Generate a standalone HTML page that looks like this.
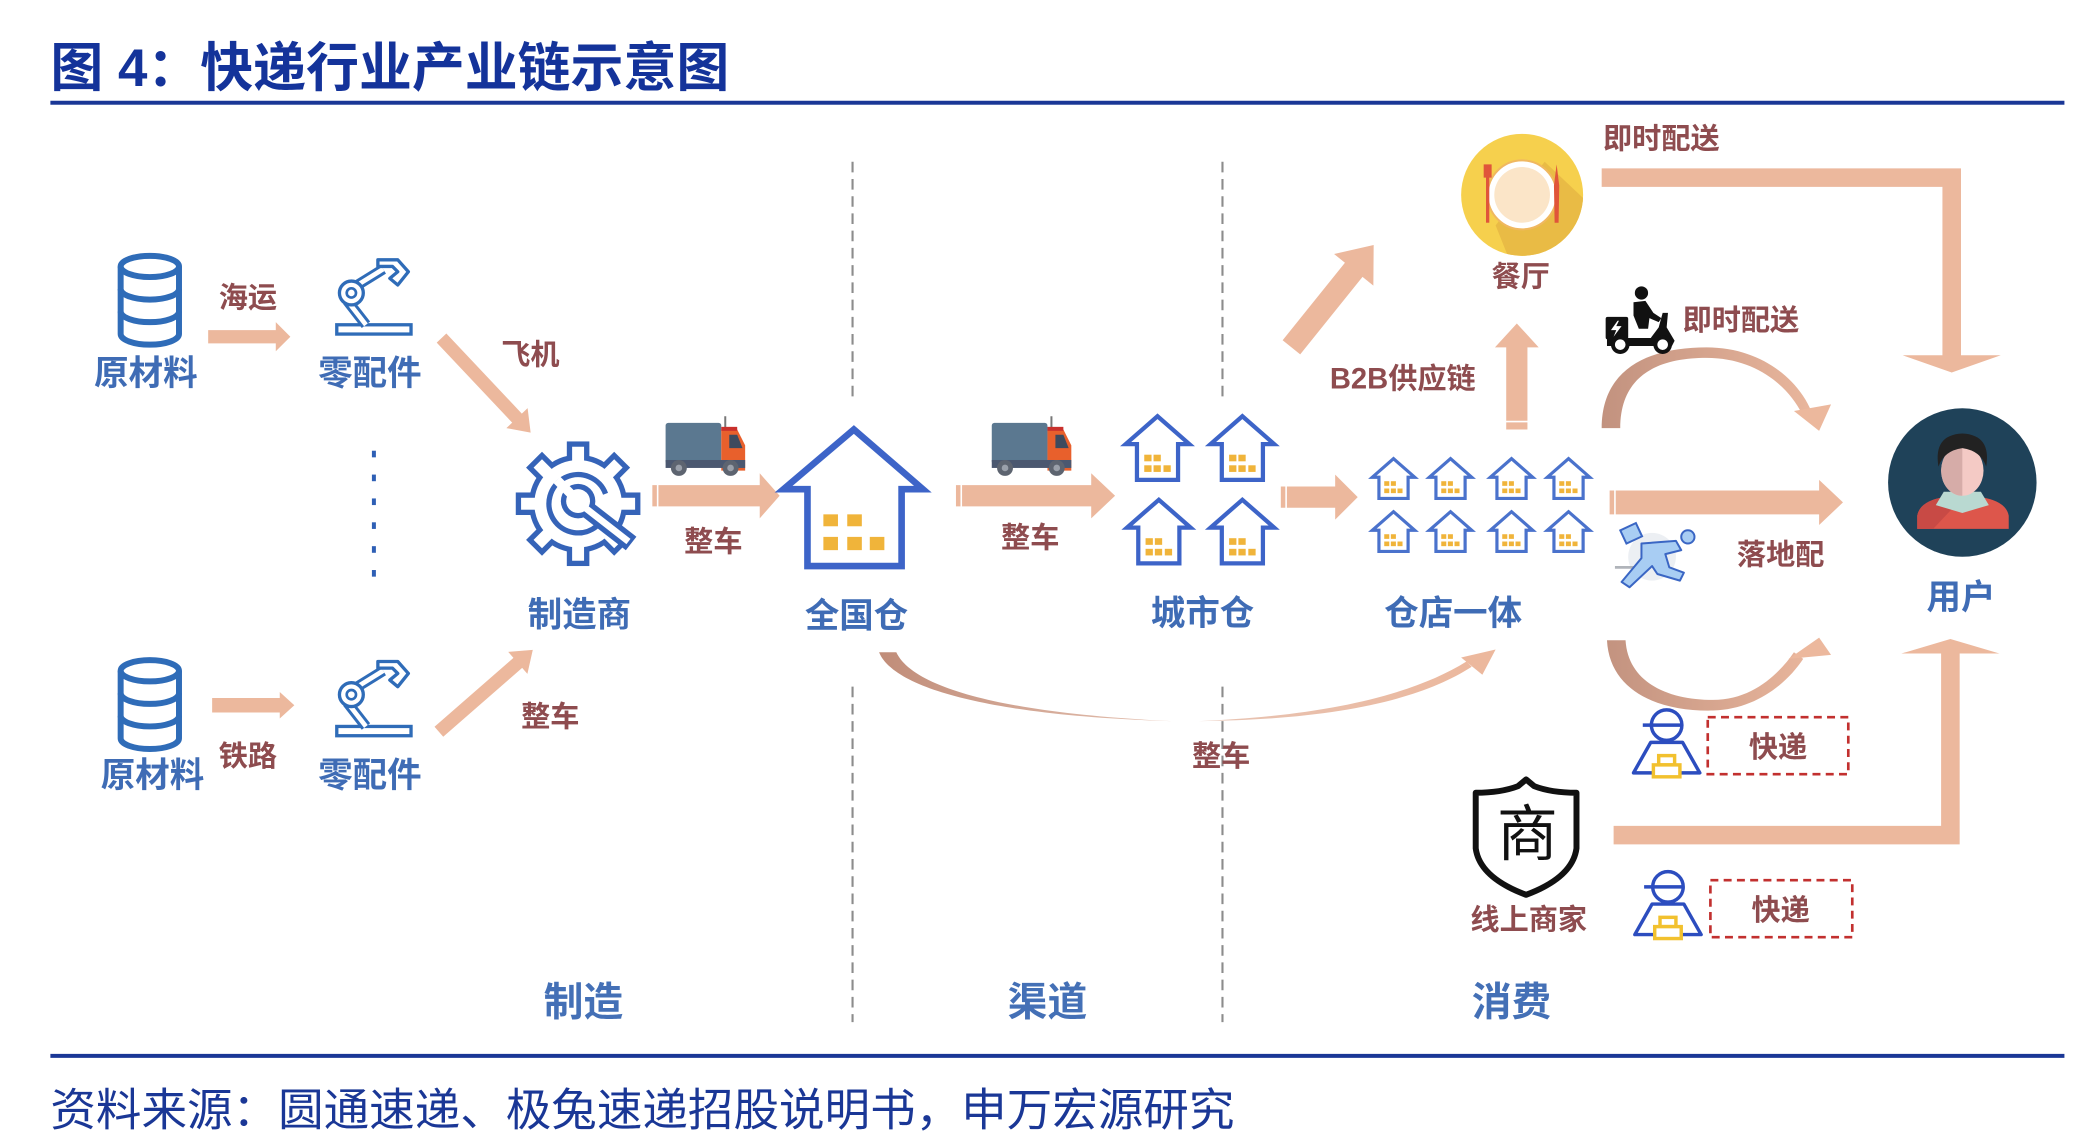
<!DOCTYPE html>
<html><head><meta charset="utf-8">
<style>
html,body{margin:0;padding:0;background:#fff;}
body{width:2079px;height:1148px;overflow:hidden;}
svg{display:block;}
text{font-family:"Liberation Sans","Noto Sans CJK SC",sans-serif;}
.b{font-size:26px;font-weight:700;fill:#3f6cb5;text-anchor:middle;}
.s{font-size:30px;font-weight:700;fill:#4470b6;text-anchor:middle;}
.r{font-size:22px;font-weight:700;fill:#8e4c4f;text-anchor:middle;}
</style></head>
<body>
<svg width="2079" height="1148" viewBox="0 0 1568 866" preserveAspectRatio="none" xmlns="http://www.w3.org/2000/svg">
<defs>
  <linearGradient id="gUp" gradientUnits="userSpaceOnUse" x1="1208" y1="0" x2="1380" y2="0">
    <stop offset="0" stop-color="#c2927f"/><stop offset="1" stop-color="#ecb99f"/>
  </linearGradient>
  <linearGradient id="gBig" gradientUnits="userSpaceOnUse" x1="660" y1="0" x2="1130" y2="0">
    <stop offset="0" stop-color="#c08c78"/><stop offset="0.5" stop-color="#e7c4b4"/><stop offset="1" stop-color="#ecb79c"/>
  </linearGradient>
  <clipPath id="plateClip"><circle cx="1148" cy="147" r="46"/></clipPath>
  <g id="db" fill="none" stroke="#2f6cb8" stroke-width="4.5">
    <ellipse cx="0" cy="8" rx="22" ry="8" fill="#fff"/>
    <path d="M-22,8 V59 A22,8 0 0 0 22,59 V8"/>
    <path d="M-22,25 A22,8 0 0 0 22,25"/>
    <path d="M-22,42 A22,8 0 0 0 22,42"/>
  </g>
  <g id="robot">
    <rect x="254" y="245" width="56" height="7" fill="#fff" stroke="#2f6cb8" stroke-width="2.5"/>
    <path d="M262,227 L276,245" stroke="#2f6cb8" stroke-width="8"/>
    <path d="M262,227 L276,245" stroke="#fff" stroke-width="3.5"/>
    <path d="M268,216 L289,203" stroke="#2f6cb8" stroke-width="8"/>
    <path d="M268,216 L289,203" stroke="#fff" stroke-width="3.5"/>
    <circle cx="265" cy="221" r="9" fill="#fff" stroke="#2f6cb8" stroke-width="2.5"/>
    <circle cx="265" cy="221" r="3.5" fill="none" stroke="#2f6cb8" stroke-width="2"/>
    <path d="M285,196 L300,196 L308,205 L300,215 L294,210 L300,205 L296,201 L285,201 Z" fill="#fff" stroke="#2f6cb8" stroke-width="2.5" stroke-linejoin="round"/>
  </g>
  <g id="hs">
    <polygon points="-15.5,48 -15.5,21 -24,21 0,0 24,21 15.5,21 15.5,48" fill="#fff" stroke="#3d64c8" stroke-width="3.2" stroke-linejoin="miter"/>
    <g fill="#f0b43a">
      <rect x="-10" y="29" width="5.5" height="5"/><rect x="-3" y="29" width="5.5" height="5"/>
      <rect x="-10" y="37" width="5.5" height="5"/><rect x="-3" y="37" width="5.5" height="5"/><rect x="4.5" y="37" width="5.5" height="5"/>
    </g>
  </g>
  <g id="hx">
    <polygon points="-11,30 -11,14 -16,14 0,0 16,14 11,14 11,30" fill="#fff" stroke="#4a72cc" stroke-width="2.4"/>
    <g fill="#f0b43a">
      <rect x="-7" y="17" width="3.8" height="3.5"/><rect x="-2" y="17" width="3.8" height="3.5"/>
      <rect x="-7" y="22.5" width="3.8" height="3.5"/><rect x="-2" y="22.5" width="3.8" height="3.5"/><rect x="3" y="22.5" width="3.8" height="3.5"/>
    </g>
  </g>
  <g id="courier" stroke-width="2.6" fill="none">
    <path d="M-12,13 L12,13 L25,36 L-25,36 Z" stroke="#2c4dbf" fill="#fff" stroke-linejoin="round"/>
    <circle cx="0" cy="0" r="11.5" stroke="#2c4dbf" fill="#fff"/>
    <line x1="-18" y1="0" x2="11" y2="0" stroke="#2c4dbf"/>
    <rect x="-6" y="23" width="12" height="7" stroke="#f2c12e" fill="#fff"/>
    <rect x="-10" y="30" width="20" height="9" stroke="#f2c12e" fill="#fff"/>
  </g>
</defs>

<!-- Title -->
<text x="38" y="65" font-size="40" font-weight="700" fill="#14339a" textLength="512" lengthAdjust="spacingAndGlyphs">图 4：快递行业产业链示意图</text>
<rect x="38" y="76" width="1519" height="3" fill="#1a3796"/>
<rect x="38" y="795" width="1519" height="3" fill="#1a3796"/>
<text x="38" y="849" font-size="34" fill="#1a3796" textLength="893" lengthAdjust="spacingAndGlyphs">资料来源：圆通速递、极兔速递招股说明书，申万宏源研究</text>

<!-- dashed separators -->
<g stroke="#8c8c8c" stroke-width="1.6" stroke-dasharray="8,5">
  <line x1="643" y1="122" x2="643" y2="300"/>
  <line x1="643" y1="518" x2="643" y2="771"/>
  <line x1="922" y1="122" x2="922" y2="300"/>
  <line x1="922" y1="518" x2="922" y2="771"/>
</g>

<!-- arrows -->
<g fill="#ecb89d">
  <polygon points="157,249 208,249 208,243 219,254 208,265 208,259 157,259"/>
  <polygon points="160,526.5 211,526.5 211,522 222,532 211,542 211,537.5 160,537.5"/>
  <polygon points="0,-5 83,-5 83,-11 98,0 83,11 83,5 0,5" transform="translate(333,255) rotate(46.7)"/>
  <polygon points="0,-5 79,-5 79,-11 94,0 79,11 79,5 0,5" transform="translate(331,552) rotate(-41.1)"/>
  <polygon points="492,366 573,366 573,357 588,374 573,391 573,382 492,382"/>
  <polygon points="721,366 823,366 823,357 841,374 823,391 823,382 721,382"/>
  <polygon points="966,367 1007,367 1007,358 1024,375 1007,392 1007,383 966,383"/>
  <polygon points="1214,370 1372,370 1372,362 1390,379 1372,396 1372,388 1214,388"/>
  <polygon points="1136,324 1136,262 1127.5,262 1144,244 1160.5,262 1152,262 1152,324"/>
  <polygon points="0,-8.5 75,-8.5 75,-19 99,0 75,19 75,8.5 0,8.5" transform="translate(974,262) rotate(-51.2)"/>
  <polygon points="1208,127 1479,127 1479,268 1509,268 1472,281 1435,268 1465,268 1465,141 1208,141"/>
  <polygon points="1217,623 1464,623 1464,493 1434,493 1471,482 1508,493 1478,493 1478,637 1217,637"/>
</g>
<!-- tail stripes -->
<g stroke="#fff" stroke-width="1.2">
  <line x1="496" y1="365" x2="496" y2="383"/><line x1="725" y1="365" x2="725" y2="383"/>
  <line x1="970" y1="366" x2="970" y2="384"/><line x1="1218" y1="369" x2="1218" y2="389"/>
  <line x1="1135" y1="318" x2="1153" y2="318"/>
</g>

<!-- curved arrows -->
<path d="M1208,323 C1208,275 1248,262 1287,262 C1330,262 1357,288 1366,310 L1359,312 C1349,292 1325,270 1287,270 C1252,270 1222,282 1222,323 Z" fill="url(#gUp)"/>
<polygon points="1353,310 1381,305 1372,325" fill="#ecb89d"/>
<path d="M1212,483 C1214,522 1252,537 1292,536 C1325,535 1348,515 1360,497 L1353,492 C1342,508 1322,528 1292,528 C1258,528 1228,515 1226,483 Z" fill="url(#gUp)"/>
<polygon points="1349,497 1381,494 1372,481" fill="#ecb89d"/>
<path d="M663,492 C676,524 770,541 884,544 C772,539 690,522 676,492 Z" fill="url(#gBig)"/>
<path d="M904,544 C1000,543 1068,530 1110,503 L1106,499 C1066,524 1000,540 904,544 Z" fill="url(#gBig)"/>
<polygon points="1102,496 1118,509 1128,490" fill="#ecb89d"/>

<!-- databases -->
<use href="#db" transform="translate(113,193)"/>
<use href="#db" transform="translate(113,498)"/>
<!-- robots -->
<use href="#robot"/>
<use href="#robot" transform="translate(0,303)"/>
<!-- dots -->
<g fill="#2e5fb5">
  <rect x="280.5" y="340" width="3" height="5"/><rect x="280.5" y="358" width="3" height="5"/>
  <rect x="280.5" y="376" width="3" height="5"/><rect x="280.5" y="394" width="3" height="5"/>
  <rect x="280.5" y="412" width="3" height="5"/><rect x="280.5" y="430" width="3" height="5"/>
</g>

<!-- gear + wrench -->
<g transform="translate(436,380)">
  <g fill="#3563b8">
    <circle r="37"/>
    <rect x="-8.5" y="-47" width="17" height="14"/>
    <rect x="-8.5" y="-47" width="17" height="14" transform="rotate(45)"/>
    <rect x="-8.5" y="-47" width="17" height="14" transform="rotate(90)"/>
    <rect x="-8.5" y="-47" width="17" height="14" transform="rotate(135)"/>
    <rect x="-8.5" y="-47" width="17" height="14" transform="rotate(180)"/>
    <rect x="-8.5" y="-47" width="17" height="14" transform="rotate(225)"/>
    <rect x="-8.5" y="-47" width="17" height="14" transform="rotate(270)"/>
    <rect x="-8.5" y="-47" width="17" height="14" transform="rotate(315)"/>
  </g>
  <g fill="#fff">
    <circle r="33"/>
    <rect x="-4.5" y="-43" width="9" height="14"/>
    <rect x="-4.5" y="-43" width="9" height="14" transform="rotate(45)"/>
    <rect x="-4.5" y="-43" width="9" height="14" transform="rotate(90)"/>
    <rect x="-4.5" y="-43" width="9" height="14" transform="rotate(135)"/>
    <rect x="-4.5" y="-43" width="9" height="14" transform="rotate(180)"/>
    <rect x="-4.5" y="-43" width="9" height="14" transform="rotate(225)"/>
    <rect x="-4.5" y="-43" width="9" height="14" transform="rotate(270)"/>
    <rect x="-4.5" y="-43" width="9" height="14" transform="rotate(315)"/>
  </g>
  <path d="M14.1,16.9 A22,22 0 1 1 20.7,-7.5" fill="none" stroke="#3563b8" stroke-width="4"/>
  <circle cx="0" cy="-2" r="13" fill="#3563b8"/>
  <line x1="4" y1="2" x2="40" y2="30" stroke="#3563b8" stroke-width="13"/>
  <circle cx="0" cy="-2" r="9" fill="#fff"/>
  <line x1="4" y1="2" x2="38" y2="28.5" stroke="#fff" stroke-width="5"/>
  <line x1="-2" y1="-4" x2="-16" y2="-18" stroke="#fff" stroke-width="7"/>
</g>

<!-- trucks -->
<g id="truck1">
  <rect x="502" y="319" width="42" height="31" rx="2" fill="#5b7890"/>
  <line x1="547" y1="314" x2="547" y2="324" stroke="#777" stroke-width="1.5"/>
  <path d="M544,324 L556,324 L562,336 L562,355 L544,355 Z" fill="#e8602c"/>
  <rect x="544" y="322" width="12" height="3" fill="#c9302c"/>
  <path d="M550,328 L556,328 L560,338 L550,338 Z" fill="#3d4a5e"/>
  <rect x="502" y="347" width="60" height="6" fill="#4b5870"/>
  <circle cx="512" cy="353" r="6" fill="#5d6470"/><circle cx="512" cy="353" r="2.5" fill="#9aa0aa"/>
  <circle cx="551" cy="353" r="6" fill="#5d6470"/><circle cx="551" cy="353" r="2.5" fill="#9aa0aa"/>
</g>
<use href="#truck1" transform="translate(246,0)"/>

<!-- big house -->
<polygon points="609,427 609,369 591,369 644,324 696,369 680,369 680,427" fill="#fff" stroke="#3d64c8" stroke-width="5"/>
<g fill="#f0b43a">
  <rect x="621" y="388" width="11" height="9"/><rect x="639" y="388" width="11" height="9"/>
  <rect x="621" y="405" width="11" height="10"/><rect x="639" y="405" width="11" height="10"/><rect x="656" y="405" width="11" height="10"/>
</g>
<!-- city houses -->
<use href="#hs" transform="translate(873,314)"/>
<use href="#hs" transform="translate(937,314)"/>
<use href="#hs" transform="translate(874,377)"/>
<use href="#hs" transform="translate(937,377)"/>
<!-- store houses -->
<use href="#hx" transform="translate(1051,346)"/>
<use href="#hx" transform="translate(1094,346)"/>
<use href="#hx" transform="translate(1140,346)"/>
<use href="#hx" transform="translate(1183,346)"/>
<use href="#hx" transform="translate(1051,386)"/>
<use href="#hx" transform="translate(1094,386)"/>
<use href="#hx" transform="translate(1140,386)"/>
<use href="#hx" transform="translate(1183,386)"/>

<!-- restaurant -->
<circle cx="1148" cy="147" r="46" fill="#f6d04d"/>
<polygon points="1165,122 1200,155 1200,200 1140,200 1128,170" fill="#e9bb45" clip-path="url(#plateClip)"/>
<circle cx="1148" cy="147" r="26" fill="#fff" stroke="#f0b860" stroke-width="1.5"/>
<circle cx="1148" cy="147" r="21" fill="#fbe5c8"/>
<line x1="1122" y1="130" x2="1122" y2="168" stroke="#e0553a" stroke-width="2.5"/>
<rect x="1119" y="124" width="6" height="10" fill="#e0553a"/>
<path d="M1174,124 L1176,140 L1175.5,168 L1172.5,168 L1172,140 Z" fill="#e0553a"/>

<!-- scooter -->
<g fill="#111">
  <rect x="1211" y="239" width="17" height="17" rx="1.5"/>
  <polygon points="1220,242 1215,249 1219,249 1217,254 1223,246 1219,246 1221,242" fill="#fff"/>
  <circle cx="1238" cy="221" r="5"/>
  <polygon points="1232,228 1241,227 1247,236 1253,240 1251,243 1244,240 1243,248 1236,248 1232,238"/>
  <polygon points="1212,255 1245,255 1251,247 1254,236 1258,236 1257,247 1263,257 1261,261 1212,261"/>
  <circle cx="1222" cy="260" r="5.5" fill="#fff" stroke="#111" stroke-width="3"/>
  <circle cx="1254" cy="260" r="5.5" fill="#fff" stroke="#111" stroke-width="3"/>
</g>

<!-- runner -->
<circle cx="1246" cy="420" r="18" fill="#eceff3"/>
<line x1="1218" y1="428" x2="1234" y2="428" stroke="#b0b4ba" stroke-width="2"/>
<rect x="1224" y="397" width="13" height="11" fill="#a8cdf3" stroke="#3a66c4" stroke-width="1.5" transform="rotate(-25 1230 403)"/>
<polygon points="1238,410 1264,408 1268,415 1256,418 1259,428 1270,432 1267,438 1250,433 1246,427 1229,443 1223,439 1238,421" fill="#a8cdf3" stroke="#3a66c4" stroke-width="1.5" stroke-linejoin="round"/>
<circle cx="1273" cy="405" r="5" fill="#a8cdf3" stroke="#3a66c4" stroke-width="1.5"/>

<!-- user -->
<circle cx="1480" cy="364" r="56" fill="#1f4259"/>
<path d="M1446,399 L1446,389 Q1448,378 1466,375 L1480,386 L1494,375 Q1513,378 1515,389 L1515,399 Z" fill="#dd564b"/>
<path d="M1446,399 L1446,389 Q1448,378 1466,375 L1474,382 L1458,399 Z" fill="#c84a45"/>
<polygon points="1466,371 1494,371 1500,381 1480,387 1460,381" fill="#b9d9d1"/>
<ellipse cx="1480" cy="355" rx="16" ry="19" fill="#f4cac5"/>
<path d="M1480,336 A16,19 0 0 0 1480,374 Z" fill="#d6aca8"/>
<path d="M1462,352 Q1458,328 1480,327 Q1502,328 1498,352 Q1494,340 1480,338 Q1466,340 1462,352 Z" fill="#222"/>

<!-- couriers -->
<use href="#courier" transform="translate(1257,547)"/>
<use href="#courier" transform="translate(1258,669)"/>
<rect x="1288" y="541" width="106" height="43" fill="none" stroke="#c2302f" stroke-width="2" stroke-dasharray="6,4"/>
<rect x="1290" y="664" width="107" height="43" fill="none" stroke="#c2302f" stroke-width="2" stroke-dasharray="6,4"/>

<!-- shop shield -->
<path d="M1151,588 L1157,593 Q1170,598 1189,598 L1189,640 Q1186,662 1151,675 Q1116,662 1113,640 L1113,598 Q1132,598 1145,593 Z" fill="#fff" stroke="#111" stroke-width="4.5" stroke-linejoin="round"/>
<text x="1152" y="645" font-size="46" fill="#111" text-anchor="middle" style="font-family:'Noto Sans CJK SC',sans-serif;">商</text>

<!-- blue labels -->
<text class="b" x="110" y="290.5">原材料</text>
<text class="b" x="279" y="290.5">零配件</text>
<text class="b" x="115" y="593.5">原材料</text>
<text class="b" x="279" y="593.5">零配件</text>
<text class="b" x="437" y="472.5">制造商</text>
<text class="b" x="646" y="473.5">全国仓</text>
<text class="b" x="907" y="471.5">城市仓</text>
<text class="b" x="1096" y="471.5">仓店一体</text>
<text class="b" x="1479" y="459.5">用户</text>

<text class="s" x="440" y="766">制造</text>
<text class="s" x="790" y="766">渠道</text>
<text class="s" x="1140" y="766">消费</text>

<!-- brown labels -->
<text class="r" x="187" y="232">海运</text>
<text class="r" x="400" y="275">飞机</text>
<text class="r" x="187" y="578">铁路</text>
<text class="r" x="415" y="548">整车</text>
<text class="r" x="538" y="416">整车</text>
<text class="r" x="777" y="413">整车</text>
<text class="r" x="921" y="578">整车</text>
<text class="r" x="1058" y="293">B2B供应链</text>
<text class="r" x="1147" y="216">餐厅</text>
<text class="r" x="1253" y="112">即时配送</text>
<text class="r" x="1313" y="249">即时配送</text>
<text class="r" x="1343" y="426">落地配</text>
<text class="r" x="1341" y="571">快递</text>
<text class="r" x="1343" y="694">快递</text>
<text class="r" x="1153" y="701">线上商家</text>
</svg>
</body></html>
